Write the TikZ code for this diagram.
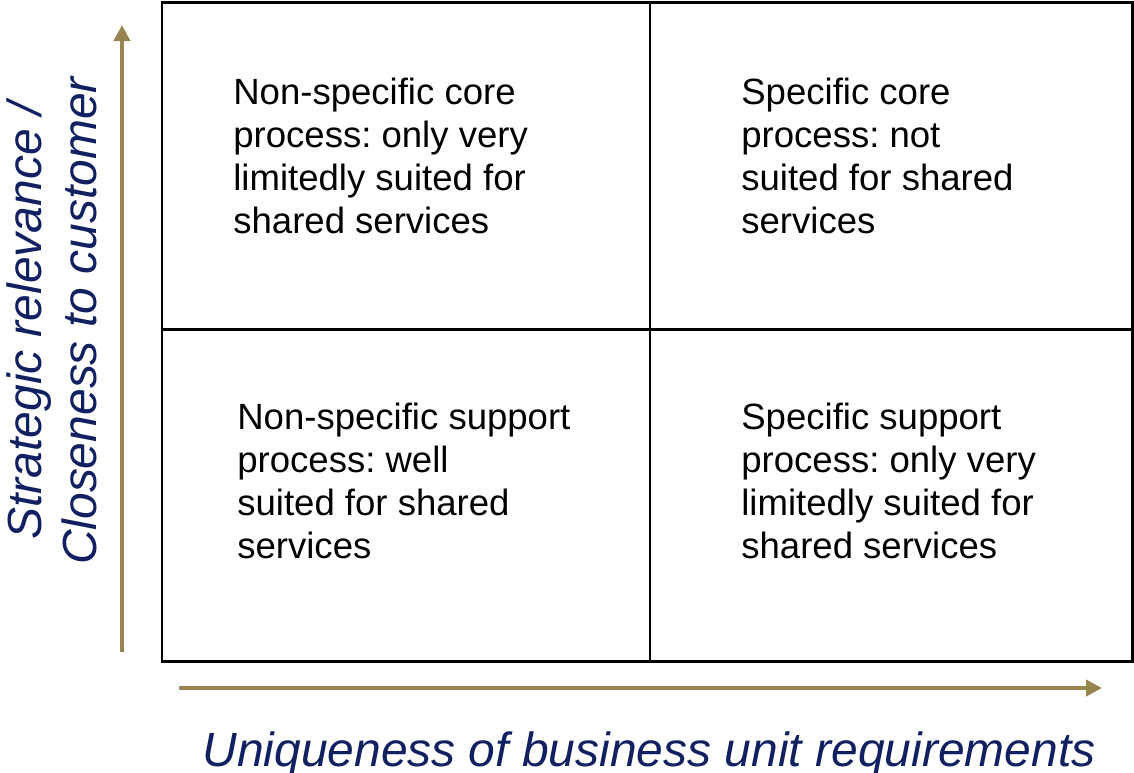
\documentclass[tikz,border=0pt]{standalone}
\usepackage{fontspec}
\setmainfont{Liberation Sans}
\usetikzlibrary{arrows.meta, positioning}
\definecolor{axisgold}{RGB}{151,132,80}
\definecolor{labelnavy}{RGB}{16,32,96}
\frenchspacing

\begin{document}
\begin{tikzpicture}[x=0.02cm, y=-0.02cm,
    quadtext/.style={anchor=north west, inner sep=0pt, align=left,
        font=\fontsize{20.8}{24.4}\selectfont},
    axislabel/.style={color=labelnavy, inner sep=0pt,
        font=\fontsize{27.3}{31}\selectfont\itshape},
    axisarrow/.style={line width=2.27pt, color=axisgold,
        -{Triangle[length=0.32cm, width=0.32cm]}}]
    \useasboundingbox (0,0) rectangle (1134,772);

    % Matrix frame
    \coordinate (nw) at (162,2);
    \coordinate (se) at (1132.5,661);
    \coordinate (top) at (650,2);
    \coordinate (bottom) at (650,661);
    \coordinate (left) at (162,329.5);
    \coordinate (right) at (1132.5,329.5);
    \draw[line width=1.7pt] (nw) rectangle (se);
    \draw[line width=1.7pt] (top) -- (bottom);
    \draw[line width=1.7pt] (left) -- (right);

    % Quadrants
    \node[quadtext] (ul) at (233,78) {Non-specific core\\process: only very\\limitedly suited for\\shared services};
    \node[quadtext] (ur) at (741,78) {Specific core\\process: not\\suited for shared\\services};
    \node[quadtext] (ll) at (237,403) {Non-specific support\\process: well\\suited for shared\\services};
    \node[quadtext] (lr) at (741,403) {Specific support\\process: only very\\limitedly suited for\\shared services};

    % Axes
    \coordinate (yfoot) at (122,652);
    \coordinate (yhead) at (122,25);
    \coordinate (xfoot) at (179,688);
    \coordinate (xhead) at (1102,688);
    \draw[axisarrow] (yfoot) -- (yhead);
    \draw[axisarrow] (xfoot) -- (xhead);

    \node[axislabel, rotate=90, align=center] (ylabel) at (52,321) {Strategic relevance /\\Closeness to customer};
    \node[axislabel, anchor=base] (xlabel) at (649,766) {Uniqueness of business unit requirements};
\end{tikzpicture}
\end{document}
